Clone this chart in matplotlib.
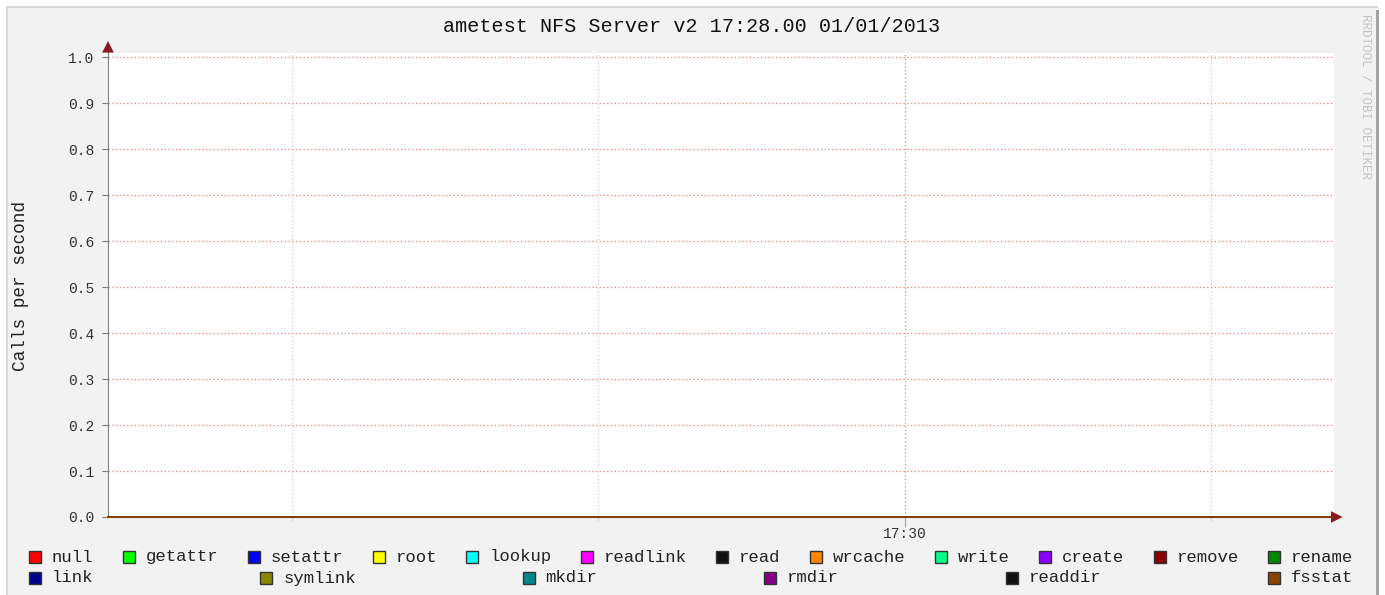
import datetime as dt
import matplotlib
matplotlib.use("Agg")
import matplotlib.pyplot as plt
import matplotlib.dates as mdates
from matplotlib.patches import Rectangle

plt.rcParams["font.family"] = ["Liberation Mono", "DejaVu Sans Mono"]

# samples (all calls at zero for this period)
sample_times = ["17:27:24", "17:28:24", "17:29:24", "17:30:24", "17:31:24"]
series_names = ["null", "getattr", "setattr", "root", "lookup", "readlink",
                "read", "wrcache", "write", "create", "remove", "rename",
                "link", "symlink", "mkdir", "rmdir", "readdir", "fsstat"]
series_colors = ["#ff0000", "#00ff00", "#0000ff", "#ffff00", "#00ffff", "#ff00ff",
                 "#111111", "#ff8800", "#00ff88", "#8800ff", "#880000", "#008800",
                 "#000088", "#888800", "#008888", "#880088", "#111111", "#884400"]
series_values = [[0.0, 0.0, 0.0, 0.0, 0.0] for _ in series_names]
legend_rows = [series_names[:12], series_names[12:]]

W, H = 1385, 595
fig = plt.figure(figsize=(W / 100, H / 100), dpi=100, facecolor="white")


def fx(x):
    return x / W


def fy(y):
    return 1 - y / H


# outer frame
fig.patches.append(Rectangle((fx(7), fy(H + 5)), fx(1378 - 7), (H - 2) / H,
                             transform=fig.transFigure, facecolor="#f2f2f2",
                             edgecolor="none", zorder=-3))
fig.patches.append(Rectangle((fx(6), fy(H + 5)), fx(2), (H - 2) / H,
                             transform=fig.transFigure, facecolor="#d6d6d6",
                             edgecolor="none", zorder=-2))
fig.patches.append(Rectangle((fx(6), fy(8)), fx(1378 - 6), 2 / H,
                             transform=fig.transFigure, facecolor="#d6d6d6",
                             edgecolor="none", zorder=-2))
fig.patches.append(Rectangle((fx(1376), fy(H + 5)), fx(3), (H - 5) / H,
                             transform=fig.transFigure, facecolor="#a6a6a6",
                             edgecolor="none", zorder=-2))

ax = fig.add_axes([fx(108), fy(517), fx(1334 - 108), (517 - 53) / H])
ax.set_facecolor("white")

times = [dt.datetime.strptime("2013-01-01 " + t, "%Y-%m-%d %H:%M:%S") for t in sample_times]
for vals, col in zip(series_values, series_colors):
    ax.plot(times, vals, color=col, lw=1.4, zorder=3, clip_on=False)

ax.set_xlim(times[0], times[-1])
ax.set_ylim(0, 1.0087)
yticks = [i / 10 for i in range(11)]
ax.set_yticks(yticks)
ax.yaxis.set_major_formatter(plt.FuncFormatter(lambda v, p: f"{v:.1f}"))

ax.xaxis.set_major_locator(mdates.MinuteLocator(byminute=[0, 30]))
ax.xaxis.set_minor_locator(mdates.MinuteLocator(byminute=[m for m in range(60) if m % 30]))
ax.xaxis.set_major_formatter(mdates.DateFormatter("%H:%M"))

red_grid = "#ee7f7f"
grey_grid = "#cfcfcf"
dots = (0, (1, 2))

ax.tick_params(axis="y", length=4, width=0.8, color="#808080", pad=6,
               labelsize=10.5, labelcolor="#333333")
ax.tick_params(axis="x", which="major", length=7, width=0.8, color=red_grid,
               pad=0, labelsize=10.5, labelcolor="#333333",
               grid_color=red_grid, grid_linestyle=dots, grid_linewidth=0.9)
ax.tick_params(axis="x", which="minor", length=3, width=0.8, color=grey_grid,
               grid_color=grey_grid, grid_linestyle=dots, grid_linewidth=0.9)
ax.grid(axis="x", which="both")

# horizontal grid: red dotted on every 0.1
for v in yticks[1:]:
    ax.axhline(v, color=red_grid, ls=dots, lw=0.9, zorder=1)
ax.set_axisbelow(True)

for s in ["top", "right"]:
    ax.spines[s].set_visible(False)
ax.spines["left"].set_color("#808080")
ax.spines["bottom"].set_color("#808080")
ax.spines["left"].set_bounds(0, 1.02)

# axis arrows
arrow = dict(arrowstyle="-|>,head_length=0.6,head_width=0.3",
             color="#8b1a1a", lw=0, mutation_scale=14)
ax.annotate("", xy=(0, 1.032), xytext=(0, 1.0), xycoords="axes fraction",
            arrowprops=arrow, annotation_clip=False)
ax.annotate("", xy=(1.0093, 0), xytext=(0.999, 0), xycoords="axes fraction",
            arrowprops=arrow, annotation_clip=False)

fig.text(fx(692), fy(26), "ametest NFS Server v2 17:28.00 01/01/2013",
         ha="center", va="center", fontsize=14.5, color="#111111")
fig.text(fx(21), fy(286), "Calls per second", rotation=90,
         ha="center", va="center", fontsize=12.8, color="#222222")
fig.text(fx(1365), fy(14), "RRDTOOL / TOBI OETIKER", rotation=270,
         ha="center", va="top", fontsize=9, color="#c4c4c4")

# justified legend rows
char_w = 10.33
box = 12
left, right = 29, 1353
row_y = [557, 578]
color_of = dict(zip(series_names, series_colors))
for names, yc in zip(legend_rows, row_y):
    widths = [box + 11 + len(n) * char_w for n in names]
    gap = (right - left - sum(widths)) / (len(names) - 1)
    x = left
    for n, w in zip(names, widths):
        fig.patches.append(Rectangle((fx(x), fy(yc + box / 2)), box / W, box / H,
                                     transform=fig.transFigure,
                                     facecolor=color_of[n], edgecolor="#333333", lw=1))
        fig.text(fx(x + box + 11), fy(yc + 4.5), n, ha="left", va="baseline",
                 fontsize=12.4, color="#222222")
        x += w + gap

fig.savefig("out.png", dpi=100, facecolor="white")
